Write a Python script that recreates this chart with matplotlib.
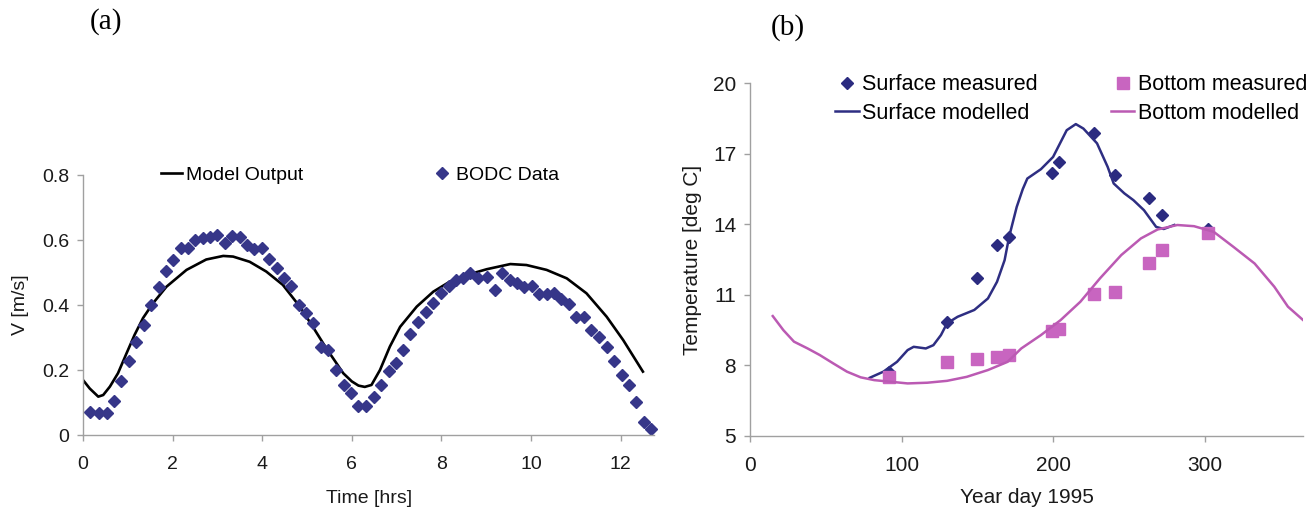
import numpy as np
import matplotlib.pyplot as plt

# (a) tidal current speed
t_bodc = [0.15, 0.36, 0.53, 0.69, 0.85, 1.02, 1.19, 1.35, 1.52, 1.69, 1.85, 2.01, 2.18, 2.34,
          2.50, 2.67, 2.83, 3.00, 3.16, 3.33, 3.50, 3.66, 3.82, 3.99, 4.15, 4.32, 4.49, 4.65,
          4.82, 4.98, 5.14, 5.31, 5.48, 5.65, 5.83, 5.99, 6.15, 6.32, 6.49, 6.66, 6.82, 6.99,
          7.15, 7.31, 7.47, 7.66, 7.82, 7.99, 8.16, 8.32, 8.48, 8.65, 8.82, 9.03, 9.19, 9.36,
          9.53, 9.69, 9.85, 10.02, 10.18, 10.35, 10.52, 10.68, 10.85, 11.01, 11.18, 11.34,
          11.51, 11.69, 11.86, 12.03, 12.19, 12.35, 12.52, 12.69]
v_bodc = [0.070, 0.067, 0.069, 0.106, 0.165, 0.229, 0.285, 0.338, 0.400, 0.455, 0.505, 0.539,
          0.576, 0.576, 0.600, 0.606, 0.610, 0.615, 0.592, 0.611, 0.610, 0.585, 0.572, 0.574,
          0.543, 0.515, 0.484, 0.458, 0.399, 0.376, 0.345, 0.270, 0.263, 0.199, 0.154, 0.129,
          0.090, 0.090, 0.118, 0.154, 0.196, 0.221, 0.263, 0.311, 0.347, 0.379, 0.407, 0.438,
          0.458, 0.476, 0.484, 0.500, 0.484, 0.486, 0.446, 0.500, 0.476, 0.469, 0.455, 0.460,
          0.433, 0.435, 0.438, 0.419, 0.402, 0.363, 0.363, 0.324, 0.302, 0.271, 0.227, 0.185,
          0.154, 0.103, 0.041, 0.019]
t_model = [0.0, 0.15, 0.34, 0.45, 0.60, 0.78, 0.97, 1.15, 1.34, 1.56, 1.86, 2.31, 2.75, 3.13,
           3.35, 3.72, 4.09, 4.46, 4.84, 5.13, 5.43, 5.81, 6.00, 6.15, 6.29, 6.44, 6.63, 6.85,
           7.08, 7.45, 7.82, 8.19, 8.56, 9.01, 9.54, 9.90, 10.35, 10.80, 11.24, 11.69, 12.06,
           12.50]
v_model = [0.169, 0.143, 0.118, 0.123, 0.149, 0.190, 0.251, 0.308, 0.360, 0.405, 0.456, 0.508,
           0.540, 0.551, 0.549, 0.533, 0.503, 0.462, 0.395, 0.333, 0.267, 0.190, 0.165, 0.152,
           0.148, 0.154, 0.200, 0.272, 0.333, 0.395, 0.441, 0.472, 0.492, 0.510, 0.526, 0.523,
           0.508, 0.482, 0.436, 0.364, 0.292, 0.195]

# (b) temperature
day_meas = [92, 130, 150, 163, 171, 199, 204, 227, 241, 263, 272, 302]
surf_meas = [7.72, 9.85, 11.72, 13.11, 13.44, 16.19, 16.65, 17.91, 16.09, 15.13, 14.39, 13.82]
bot_meas = [7.50, 8.12, 8.26, 8.36, 8.43, 9.46, 9.54, 11.03, 11.13, 12.33, 12.90, 13.61]

day_surf_mod = [79, 88, 97, 104, 108, 116, 121, 126, 130, 137, 148, 157, 163, 168, 171, 176,
                180, 183, 192, 200, 209, 215, 220, 229, 236, 240, 247, 253, 260, 268, 273, 280]
surf_mod = [7.46, 7.72, 8.14, 8.64, 8.78, 8.71, 8.85, 9.28, 9.78, 10.06, 10.35, 10.84, 11.55,
            12.47, 13.47, 14.74, 15.50, 15.95, 16.35, 16.87, 18.01, 18.27, 18.08, 17.45, 16.45,
            15.74, 15.32, 15.03, 14.60, 13.89, 13.80, 13.97]
day_bot_mod = [15, 22, 29, 38, 46, 55, 64, 73, 82, 93, 104, 117, 130, 143, 157, 170, 179, 192,
               205, 218, 231, 245, 258, 269, 282, 293, 306, 319, 333, 346, 355, 365]
bot_mod = [10.09, 9.49, 9.00, 8.71, 8.43, 8.07, 7.72, 7.48, 7.36, 7.29, 7.22, 7.25, 7.33, 7.50,
           7.79, 8.14, 8.71, 9.28, 9.92, 10.70, 11.70, 12.69, 13.40, 13.78, 13.97, 13.92, 13.68,
           13.04, 12.33, 11.34, 10.49, 9.92]

plt.rcParams['font.family'] = 'Liberation Sans'

fig = plt.figure(figsize=(13.14, 5.17), dpi=100)
ax1 = fig.add_axes([0.0632, 0.1586, 0.4346, 0.5029])
ax2 = fig.add_axes([0.5708, 0.1576, 0.4209, 0.6809])


def style(ax, size):
    for s in ['top', 'right']:
        ax.spines[s].set_visible(False)
    for s in ['left', 'bottom']:
        ax.spines[s].set_color('#a0a0a0')
        ax.spines[s].set_linewidth(1.0)
    ax.tick_params(axis='both', color='#a0a0a0', length=4, width=1,
                   labelcolor='#1a1a1a', labelsize=size)
    ax.tick_params(axis='x', pad=11)
    ax.tick_params(axis='y', pad=6)


# panel (a)
ax1.plot(t_model, v_model, color='black', lw=1.9, label='Model Output',
         solid_joinstyle='round')
ax1.plot(t_bodc, v_bodc, 'D', color='#363689', ms=5.8, ls='none', label='BODC Data',
         clip_on=False)
ax1.set_xlim(0, 12.75)
ax1.set_ylim(0, 0.8)
ax1.set_xticks([0, 2, 4, 6, 8, 10, 12])
ax1.set_yticks([0, 0.2, 0.4, 0.6, 0.8])
ax1.set_yticklabels(['0', '0.2', '0.4', '0.6', '0.8'])
style(ax1, 14)
ax1.set_xlabel('Time [hrs]', fontsize=14, color='#1a1a1a', labelpad=12)
ax1.set_ylabel('V [m/s]', fontsize=14, color='#1a1a1a', labelpad=9)
ax1.legend(loc='center left', bbox_to_anchor=(0.1366, 1.0), ncol=2, frameon=False,
           fontsize=14, handlelength=1.08, handletextpad=0.2, columnspacing=6.6,
           borderpad=0, borderaxespad=0)

# panel (b)
ax2.plot(day_meas, surf_meas, 'D', color='#2b2b80', ms=6.5, ls='none',
         label='Surface measured')
ax2.plot(day_surf_mod, surf_mod, color='#2e2e82', lw=1.8, label='Surface modelled')
ax2.plot(day_meas, bot_meas, 's', color='#c865c0', ms=8, ls='none',
         label='Bottom measured')
ax2.plot(day_bot_mod, bot_mod, color='#bb5ab3', lw=1.8, label='Bottom modelled')
ax2.set_xlim(0, 365)
ax2.set_ylim(5, 20)
ax2.set_xticks([0, 100, 200, 300])
ax2.set_yticks([5, 8, 11, 14, 17, 20])
style(ax2, 15)
ax2.set_xlabel('Year day 1995', fontsize=15, color='#1a1a1a', labelpad=9)
ax2.set_ylabel('Temperature [deg C]', fontsize=15, color='#1a1a1a', labelpad=8)
ax2.legend(loc='center left', bbox_to_anchor=(0.1537, 0.9554), ncol=2, frameon=False,
           fontsize=15.5, handlelength=1.1, handletextpad=0.15, columnspacing=3.4,
           labelspacing=0.35, borderpad=0, borderaxespad=0)

fig.text(106 / 1314, 1 - 22 / 517, '(a)', family='Liberation Serif', fontsize=21,
         ha='center', va='center')
fig.text(788 / 1314, 1 - 28 / 517, '(b)', family='Liberation Serif', fontsize=21,
         ha='center', va='center')

fig.savefig('out.png', dpi=100)
